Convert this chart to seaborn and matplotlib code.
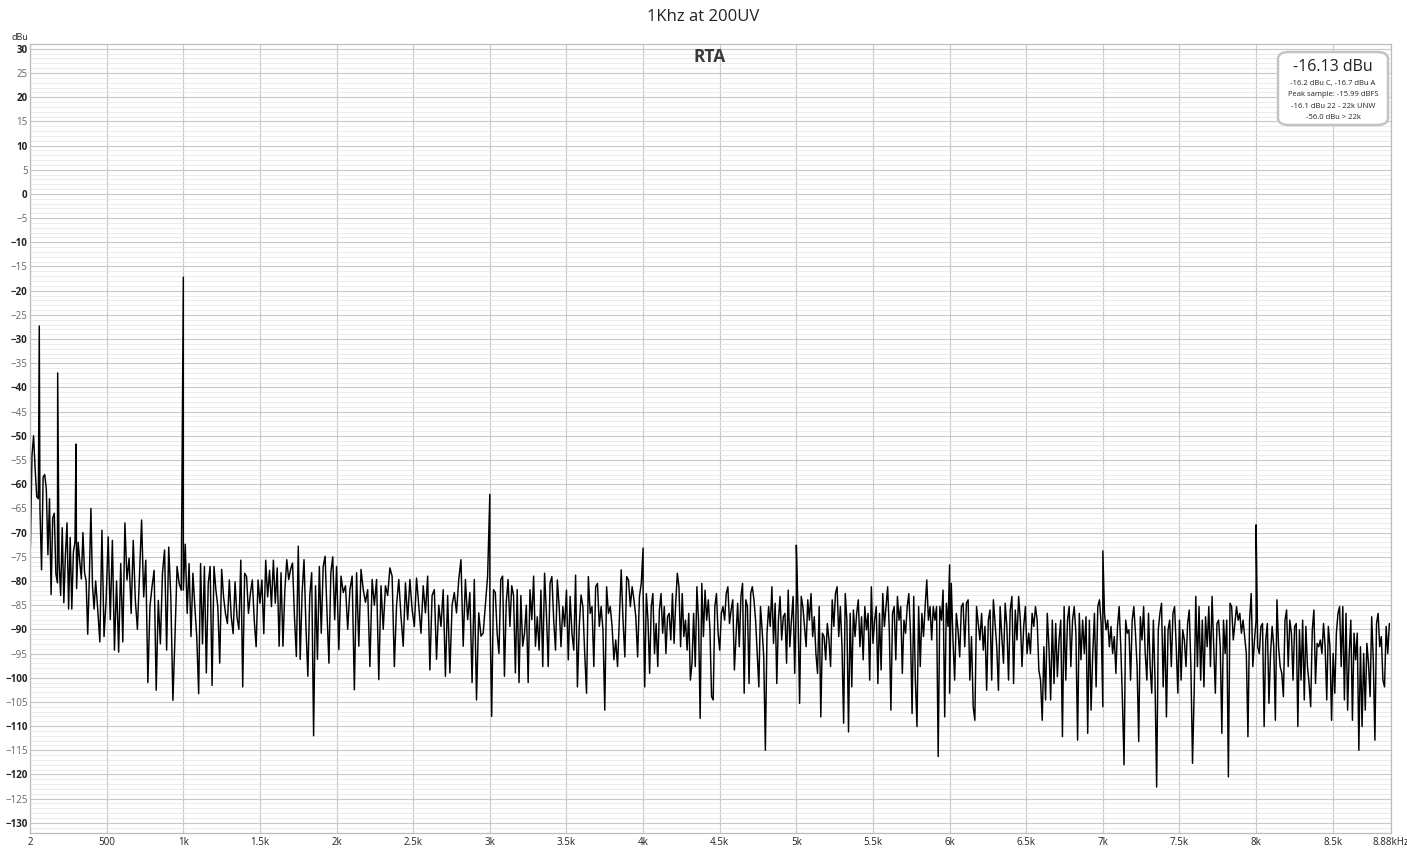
import numpy as np
import pandas as pd
import matplotlib
matplotlib.use("Agg")
import matplotlib.pyplot as plt
from matplotlib.patches import FancyBboxPatch
import seaborn as sns

# ---------------------------------------------------------
# RTA spectrum, 1 kHz tone at 200 uV
# ---------------------------------------------------------

# tone + mains harmonics (Hz, dBu)
peak_freqs = [60, 180, 300, 1000, 3000, 4000, 5000, 6000, 7000, 8000]
peak_levels = [-27.3, -37.0, -51.7, -17.2, -62.1, -73.2, -72.6, -76.7, -73.8, -68.4]

# noise floor, one list per frequency band, evenly spaced inside its band
band_edges = [2, 428, 1000, 2000, 3000, 4000, 5000, 6000, 7000, 8000, 8880]

noise_0 = [-73, -54, -50, -57, -62.6, -63, -65, -77.7, -58.5, -58, -61, -74.6, -63,
           -82.8, -67, -66, -78.5, -80.4, -76, -83, -69, -84.5, -74.6, -68, -85.8,
           -71, -85.8, -74, -72, -81.6, -72, -76, -79.6, -70, -78.2, -80, -91, -79.6,
           -65, -81, -85.8]
noise_1 = [-80, -86, -92.6, -69.5, -91.5, -84, -70.9, -88, -71.6, -94.3, -80, -94.7,
           -76.4, -92.6, -68, -79.8, -75.3, -86.7, -71.6, -84, -90, -78.4, -67.4,
           -83.3, -75.7, -101, -85.3, -81.2, -77.8, -102.6, -84, -93, -78.4, -73.6,
           -94.3, -73, -83.3, -104.7, -91.5, -77, -80.5, -81.9]
noise_2 = [-81.9, -72.4, -86.7, -76.4, -91.5, -78.4, -85.3, -91.5, -103.3, -76.4, -93,
           -77, -99, -80.5, -77, -101.6, -77, -81.9, -85.3, -97, -77.6, -83.3, -86.7,
           -88.8, -79.8, -87.4, -90.9, -80.2, -87.4, -90, -75.7, -101.9, -78.4, -79.1,
           -86.7, -82.6, -79.8, -88, -93.6, -79.8, -84.6, -79.8, -90.9, -75.7, -83.3,
           -77.8, -85.3, -75.7, -84.6, -77.3, -93.5, -78.3, -93.5, -81.8, -75.6, -79.7,
           -77.6, -76.3, -87.3, -95.6, -72.8, -96.2, -82.4, -75.6, -89.4, -99.7, -83,
           -78.3, -112, -81, -96.2, -77, -90.8, -77, -74.9, -86.6, -97, -78.3, -75, -88]
noise_3 = [-77, -94.2, -79, -82.4, -81, -90, -81.8, -79, -102.5, -78.3, -93.5, -77.6,
           -81.8, -84.4, -81.8, -97.7, -79.7, -85, -79.7, -100.4, -81, -90, -81, -83,
           -77.3, -79, -97.7, -85, -79.7, -87.3, -93.5, -80.4, -88, -79.7, -85.9, -89.4,
           -79.4, -85, -90.8, -81, -86.6, -79, -98.4, -83, -81.8, -96.2, -85, -89.4,
           -81.8, -99.7, -83, -99, -85, -82.4, -86.6, -79.7, -75.6, -93.5, -79.7, -88,
           -82.4, -101, -79.7, -104.6, -86.6, -91.4, -90.8, -85, -79]
noise_4 = [-85, -108, -81.8, -82.4, -90.8, -95, -79.7, -79, -99.7, -84.4, -79.7, -89.4,
           -81, -83, -99, -81.8, -101, -83, -93.5, -90.8, -85, -101, -81.8, -88, -79,
           -93.5, -87.4, -94.3, -81.9, -97.7, -78.4, -86.7, -97.7, -80.5, -79.1, -88.1,
           -94.3, -79.8, -85.3, -93.6, -85.3, -89.4, -81.9, -96.3, -83.2, -90.8, -94.3,
           -78.8, -101.9, -89.4, -82.9, -85.3, -95, -103.2, -79.1, -86.7, -85.3, -97.7,
           -81.2, -80.5, -89.4, -85.3, -90.1, -106.7, -81.2, -86.7, -85.3, -89.4, -96.3,
           -92.2, -97.7, -87.4, -77.7, -88.1, -95.7, -79.1, -79.8, -85.3, -81.2, -83.9,
           -87.4, -95.7, -83.2, -80.5]
noise_5 = [-81.9, -101.9, -82.6, -88.1, -99.1, -85.3, -82.6, -95, -88.8, -97.7, -86,
           -82.6, -90.8, -85.3, -95, -87.4, -86.7, -92.2, -82.6, -92.9, -84.6, -78.4,
           -81.2, -93.6, -82.6, -91.5, -88.1, -94.3, -86.7, -100.5, -97, -86.7, -97.7,
           -81.2, -88.1, -108.4, -80.5, -91.5, -81.9, -88.1, -83.9, -90.1, -103.9,
           -104.6, -85.3, -82.6, -90.8, -94.3, -86.7, -85.3, -88.1, -82.6, -81.2, -88.8,
           -86, -83.9, -98.4, -91.5, -84.6, -93.6, -83.2, -80.5, -103.2, -83.9, -85.3,
           -101.2, -82.6, -81.2, -83.9, -88.1, -95, -101.9, -85.3, -90.1, -95.7, -115,
           -90.8, -85.3, -89.4, -81.2, -92.9, -84.6, -101.2, -88.1, -83.2, -92.2, -87.4,
           -86.7, -97, -81.9, -93.6, -88.1, -83.2, -99.1]
noise_6 = [-83.2, -86, -105.3, -83.2, -85.3, -89.4, -93.6, -83.9, -88.1, -82.6, -91.5,
           -87.4, -95, -99.1, -85.3, -108.1, -90.8, -91.5, -96.3, -88.8, -92.2, -97.7,
           -83.9, -89.4, -82.6, -81.2, -91.5, -85.3, -93.6, -109.4, -82.6, -88.1, -111.2,
           -86.7, -101.9, -86, -91.5, -86.7, -83.9, -93.6, -87.4, -96.3, -85.3, -90.1,
           -86.7, -100.5, -81.2, -92.9, -88.1, -85.3, -101.2, -86.7, -98.4, -82.6, -89.4,
           -85.3, -81.2, -90.1, -106.7, -86.7, -85.3, -96.3, -83.2, -88.1, -85.3, -99.1,
           -88.1, -90.8, -85.3, -82.6, -90.8, -107.4, -83.2, -100.5, -110.1, -85.3, -97.7,
           -86.7, -91.5, -85.3, -79.8, -88.1, -85.3, -92.2, -85.3, -88.1, -85.3, -116.3,
           -85.3, -88.1, -81.9, -108.1, -84.6, -89.4]
noise_7 = [-103.2, -80.5, -92.2, -100.5, -86.7, -90.1, -95.7, -85.3, -84.6, -93.6,
           -84.6, -83.9, -100.5, -91.5, -106, -108.8, -85.3, -88.8, -92.2, -86.7, -94.3,
           -89.4, -102.6, -88.1, -86, -100.5, -83.9, -88.8, -93.6, -102.6, -85.3, -91.5,
           -97, -84.6, -89.4, -100.5, -86, -83.2, -101.2, -86, -92.2, -83.2, -88.1,
           -97.7, -89.4, -85.3, -95, -90.8, -95, -86.7, -89.4, -85.3, -88.1, -98.4,
           -100.5, -108.8, -93.6, -104.6, -86.7, -93.6, -104.6, -88.1, -101.2, -88.8,
           -99.8, -92.2, -88.1, -112.2, -85.3, -100.5, -88.1, -85.3, -97.7, -88.1, -85.3,
           -90.8, -112.9, -86.7, -96.3, -88.1, -95, -87.4, -111.5, -88.1, -106.7, -95,
           -86.7, -101.9, -85.3, -83.9, -88.8]
noise_8 = [-106, -86.7, -90.1, -88.1, -93.6, -89.4, -95, -91.5, -99.1, -89.4, -85.3,
           -93.6, -104.6, -118, -88.1, -90.8, -90.1, -100.5, -88.1, -85.3, -90.8, -97.7,
           -113.2, -87.4, -92.2, -85.3, -95, -100.5, -86.7, -97.7, -103.2, -88.1, -100.5,
           -122.6, -90.1, -86.7, -84.6, -101.9, -89.4, -108.1, -90.1, -88.1, -97.7, -86.7,
           -85.3, -93.6, -103.2, -88.1, -100.5, -90.1, -92.2, -97.7, -88.8, -86, -97.7,
           -117.7, -103.2, -83.2, -97.7, -85.3, -100.5, -88.1, -101.9, -87.4, -93.6,
           -85.3, -97.7, -83.2, -93.6, -103.2, -88.8, -88.1, -93.6, -111.5, -88.1, -95,
           -88.1, -120.5, -84.6, -85.3, -92.2, -88.8, -85.3, -88.1, -86.7, -90.8, -88.1,
           -91.5, -95, -112.2, -88.1, -82.6, -97.7, -92.2]
noise_9 = [-88.1, -93.6, -95, -89.4, -88.8, -110.1, -92.2, -88.8, -105.3, -95, -89.4,
           -93.6, -108.8, -83.9, -93.6, -97.7, -99.1, -103.9, -88.1, -86, -97.7, -88.1,
           -90.8, -100.5, -89.4, -88.8, -110.1, -90.1, -100.5, -88.1, -104.6, -89.4,
           -97.7, -101.2, -106, -90.1, -86, -101.2, -92.9, -93.6, -92.2, -95, -88.8,
           -93.6, -104.6, -89.4, -93.6, -108.8, -95, -103.2, -90.8, -86.7, -85.3, -97.7,
           -85.3, -104.6, -86.7, -106.7, -95, -88.1, -108.8, -90.8, -96.3, -90.8, -115,
           -93.6, -110.1, -95, -106.7, -92.9, -97, -103.9, -87.4, -96.3, -112.9, -88.8,
           -86.7, -93.6, -91.5, -100.5, -101.9, -89.4, -95, -88.8]

noise_bands = [noise_0, noise_1, noise_2, noise_3, noise_4, noise_5,
               noise_6, noise_7, noise_8, noise_9]

y_ticks = list(range(-130, 31, 5))
x_ticks = [2, 500, 1000, 1500, 2000, 2500, 3000, 3500, 4000, 4500,
           5000, 5500, 6000, 6500, 7000, 7500, 8000, 8500, 8880]
x_labels = ["2", "500", "1k", "1.5k", "2k", "2.5k", "3k", "3.5k", "4k", "4.5k",
            "5k", "5.5k", "6k", "6.5k", "7k", "7.5k", "8k", "8.5k", "8.88kHz"]

info_lines = ["-16.2 dBu C, -16.7 dBu A", "Peak sample: -15.99 dBFS",
              "-16.1 dBu 22 - 22k UNW", "-56.0 dBu > 22k"]

# build the trace
freqs, levels = [], []
for i, band in enumerate(noise_bands):
    lo, hi = band_edges[i], band_edges[i + 1]
    freqs.extend(np.linspace(lo, hi, len(band), endpoint=False))
    levels.extend(band)
freqs.extend(peak_freqs)
levels.extend(peak_levels)
df = pd.DataFrame({"freq": freqs, "level": levels}).sort_values("freq")

sns.set_style("white")
plt.rcParams["font.family"] = ["Open Sans", "DejaVu Sans"]

fig = plt.figure(figsize=(14.07, 8.52), dpi=100)
ax = fig.add_axes([0.0216, 0.0223, 0.9670, 0.9261])

sns.lineplot(data=df, x="freq", y="level", estimator=None, sort=False,
             color="black", linewidth=1.05, ax=ax)

ax.set_xlim(2, 8880)
ax.set_ylim(-132.1, 31)

# grid: 1 dB minor, 5 dB major, 500 Hz verticals
ax.set_yticks(y_ticks)
ax.set_yticks(np.arange(-132, 32, 1), minor=True)
ax.set_xticks(x_ticks)
ax.set_xticklabels(x_labels)
ax.grid(which="minor", axis="y", color="#e8e8e8", linewidth=0.6)
ax.grid(which="major", axis="y", color="#c9c9c9", linewidth=0.85)
ax.grid(which="major", axis="x", color="#c9c9c9", linewidth=0.85)
ax.set_axisbelow(True)
ax.tick_params(which="both", length=0, labelsize=7, pad=3)
ax.tick_params(axis="y", pad=2)
for lab, val in zip(ax.get_yticklabels(), y_ticks):
    if val % 10 == 0:
        lab.set_fontweight("bold")
        lab.set_color("#222222")
    else:
        lab.set_color("#666666")
for lab in ax.get_xticklabels():
    lab.set_color("#222222")
for side in ["top", "bottom", "left", "right"]:
    ax.spines[side].set_color("#bdbdbd")
    ax.spines[side].set_linewidth(0.9)
ax.set_xlabel("")
ax.set_ylabel("")

# texts
fig.text(0.4997, 1 - 17 / 852, "1Khz at 200UV", ha="center", va="center",
         fontsize=12, color="#222222")
fig.text(710 / 1407, 1 - 57 / 852, "RTA", ha="center", va="center",
         fontsize=12.5, fontweight="bold", color="#3a3a3a")
fig.text(20 / 1407, 1 - 37 / 852, "dBu", ha="center", va="center",
         fontsize=6.5, color="#222222")

# readout box
box = FancyBboxPatch((1278 / 1407, 1 - 125 / 852), 110 / 1407, 73 / 852,
                     boxstyle="round,pad=0,rounding_size=0.008",
                     transform=fig.transFigure, facecolor="white",
                     edgecolor="#c4c4c4", linewidth=1.8, zorder=5)
fig.patches.append(box)
fig.text(1333 / 1407, 1 - 67 / 852, "-16.13 dBu", ha="center", va="center",
         fontsize=11.5, color="#222222", zorder=6)
for k, line in enumerate(info_lines):
    fig.text(1333 / 1407, 1 - (83 + 11.5 * k) / 852, line, ha="center",
             va="center", fontsize=5.5, color="#222222", zorder=6)

fig.savefig("out.png", dpi=100)
